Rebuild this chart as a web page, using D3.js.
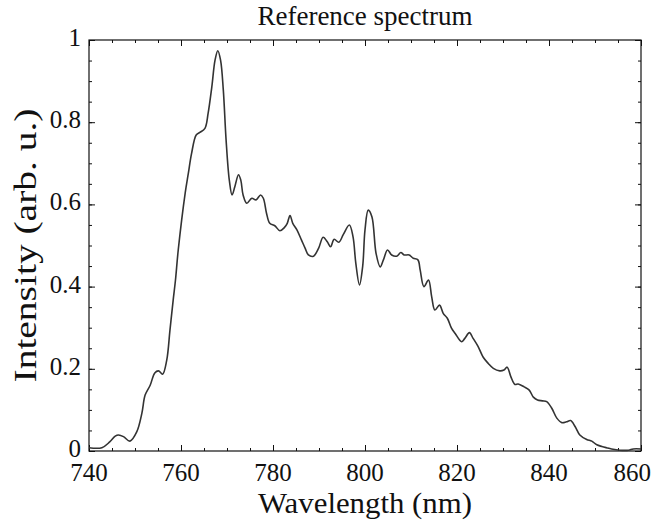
<!DOCTYPE html>
<html>
<head>
  <title>Reference spectrum</title>
  <script src="https://cdnjs.cloudflare.com/ajax/libs/d3/7.8.5/d3.min.js"></script>
  <style>
    body { margin: 0; background: white; }
    text { font-family: "Liberation Serif", "DejaVu Serif", serif; fill: #111; }
  </style>
</head>
<body>
<div class="page"></div>
<script>
// wavelength (nm) and intensity (arb. u.)
var wavelength = [740, 742.8, 744.5, 745.7, 746.4, 747.5, 748.9, 750.4, 751.5, 752.2, 753.3, 754.3, 755.1, 756.0, 756.9,
  757.6, 758.3, 758.8, 759.4, 760.9, 761.6, 762.3, 763.3, 764.1, 765.2, 765.9, 766.7, 767.4, 768.0, 768.6, 769.2,
  769.8, 770.5, 771.1, 771.7, 772.5, 773.0, 773.5, 774.3, 775.4, 776.3, 777.3, 777.9, 778.6, 779.3, 780.4, 781.5,
  782.5, 783.1, 783.7, 784.3, 785.2, 786.2, 787.0, 787.7, 788.8, 789.9, 790.9, 791.8, 792.5, 793.3, 794.3, 795.3,
  796.6, 797.4, 798.0, 798.8, 799.5, 800.0, 800.7, 801.5, 802.4, 803.3, 804.0, 804.9, 805.8, 806.9, 807.8, 808.5,
  809.6, 810.5, 811.5, 812.0, 812.8, 813.8, 814.5, 815.2, 816.2, 817.0, 817.9, 818.8, 819.6, 821.0, 821.7, 822.7,
  823.5, 824.6, 825.7, 826.8, 827.9, 829.3, 830.2, 830.9, 831.7, 832.6, 833.3, 834.6, 835.7, 836.6, 837.5, 838.6,
  839.5, 840.6, 841.7, 842.8, 843.8, 844.7, 845.7, 846.7, 848.2, 849.3, 850.4, 851.5, 852.5, 853.6, 855.4, 857.3,
  858.3, 860];
var intensity = [0.008, 0.008, 0.022, 0.036, 0.039, 0.035, 0.024, 0.047, 0.092, 0.136, 0.160, 0.190, 0.195, 0.187, 0.221,
  0.294, 0.367, 0.416, 0.489, 0.627, 0.676, 0.724, 0.769, 0.775, 0.785, 0.822, 0.886, 0.951, 0.974, 0.951, 0.878,
  0.757, 0.659, 0.623, 0.643, 0.672, 0.659, 0.623, 0.603, 0.615, 0.611, 0.623, 0.615, 0.578, 0.554, 0.548, 0.536,
  0.544, 0.554, 0.573, 0.554, 0.538, 0.513, 0.493, 0.477, 0.474, 0.493, 0.520, 0.509, 0.497, 0.515, 0.508, 0.527,
  0.550, 0.521, 0.457, 0.404, 0.450, 0.538, 0.586, 0.570, 0.481, 0.448, 0.465, 0.489, 0.477, 0.474, 0.483, 0.477,
  0.477, 0.469, 0.465, 0.440, 0.400, 0.416, 0.375, 0.343, 0.355, 0.335, 0.323, 0.299, 0.286, 0.266, 0.274, 0.288,
  0.274, 0.254, 0.228, 0.213, 0.201, 0.195, 0.197, 0.204, 0.181, 0.162, 0.163, 0.156, 0.148, 0.131, 0.124, 0.122,
  0.120, 0.104, 0.080, 0.069, 0.071, 0.074, 0.059, 0.039, 0.028, 0.024, 0.015, 0.011, 0.008, 0.005, 0.002, 0.002,
  0.005, 0.005];

var xTicks = [740, 760, 780, 800, 820, 840, 860];
var yTicks = [0, 0.2, 0.4, 0.6, 0.8, 1];
var yTickLabels = ["0", "0.2", "0.4", "0.6", "0.8", "1"];

var width = 652;
var height = 524;
var margin = {top: 40, right: 11, bottom: 73, left: 89};

var svg = d3.select(".page")
    .append("svg")
    .attr("width", width)
    .attr("height", height);

var x = d3.scaleLinear()
    .domain([740, 860])
    .range([margin.left, width - margin.right]);

var y = d3.scaleLinear()
    .domain([0, 1])
    .range([height - margin.bottom, margin.top]);

var minorX = d3.range(740, 861, 5);
var minorY = d3.range(0, 1.0001, 0.05);

// frame ticks on all four sides, pointing inward
function frameAxis(axisFn, scale, ticks, size) {
  return axisFn(scale).tickValues(ticks).tickSize(size).tickFormat("");
}

var bottomY = height - margin.bottom;
var rightX = width - margin.right;

svg.append("g").attr("transform", "translate(0," + bottomY + ")")
    .call(frameAxis(d3.axisTop, x, minorX, 3));
svg.append("g").attr("transform", "translate(0," + bottomY + ")")
    .call(frameAxis(d3.axisTop, x, xTicks, 6));
svg.append("g").attr("transform", "translate(0," + margin.top + ")")
    .call(frameAxis(d3.axisBottom, x, minorX, 3));
svg.append("g").attr("transform", "translate(0," + margin.top + ")")
    .call(frameAxis(d3.axisBottom, x, xTicks, 6));
svg.append("g").attr("transform", "translate(" + margin.left + ",0)")
    .call(frameAxis(d3.axisRight, y, minorY, 3));
svg.append("g").attr("transform", "translate(" + margin.left + ",0)")
    .call(frameAxis(d3.axisRight, y, yTicks, 6));
svg.append("g").attr("transform", "translate(" + rightX + ",0)")
    .call(frameAxis(d3.axisLeft, y, minorY, 3));
svg.append("g").attr("transform", "translate(" + rightX + ",0)")
    .call(frameAxis(d3.axisLeft, y, yTicks, 6));

svg.selectAll(".domain").remove();
svg.selectAll(".tick line").attr("stroke", "#111").attr("stroke-width", 1);

svg.append("rect")
    .attr("x", margin.left)
    .attr("y", margin.top)
    .attr("width", rightX - margin.left)
    .attr("height", bottomY - margin.top)
    .attr("fill", "none")
    .attr("stroke", "#111")
    .attr("stroke-width", 1.2);

// tick labels (last one pulled in so it stays on the page)
svg.selectAll(".xlab")
    .data(xTicks)
    .enter()
    .append("text")
    .attr("class", "xlab")
    .attr("x", function(d) { return x(d); })
    .attr("y", bottomY + 30)
    .attr("text-anchor", "middle")
    .style("font-size", "25px")
    .text(function(d) { return d; })
    .each(function() {
      var half = this.getComputedTextLength() / 2;
      var cx = +d3.select(this).attr("x");
      if (cx + half > width - 1) d3.select(this).attr("x", width - 1 - half);
    });

svg.selectAll(".ylab")
    .data(yTicks)
    .enter()
    .append("text")
    .attr("class", "ylab")
    .attr("x", margin.left - 8)
    .attr("y", function(d) { return y(d) + 6; })
    .attr("text-anchor", "end")
    .style("font-size", "25px")
    .text(function(d, i) { return yTickLabels[i]; });

// titles
svg.append("text")
    .attr("x", (margin.left + rightX) / 2)
    .attr("y", 25)
    .attr("text-anchor", "middle")
    .style("font-size", "27px")
    .text("Reference spectrum");

svg.append("text")
    .attr("x", (margin.left + rightX) / 2)
    .attr("y", 513)
    .attr("text-anchor", "middle")
    .attr("textLength", 214)
    .attr("lengthAdjust", "spacingAndGlyphs")
    .style("font-size", "29px")
    .text("Wavelength (nm)");

svg.append("text")
    .attr("transform", "translate(36," + ((margin.top + bottomY) / 2) + ") rotate(-90)")
    .attr("text-anchor", "middle")
    .attr("textLength", 274)
    .attr("lengthAdjust", "spacingAndGlyphs")
    .style("font-size", "31px")
    .text("Intensity (arb. u.)");

// spectrum
var line = d3.line()
    .x(function(d, i) { return x(wavelength[i]); })
    .y(function(d) { return y(d); })
    .curve(d3.curveCatmullRom.alpha(0.5));

svg.append("path")
    .datum(intensity)
    .attr("fill", "none")
    .attr("stroke", "#333")
    .attr("stroke-width", 1.6)
    .attr("d", line);
</script>
</body>
</html>
